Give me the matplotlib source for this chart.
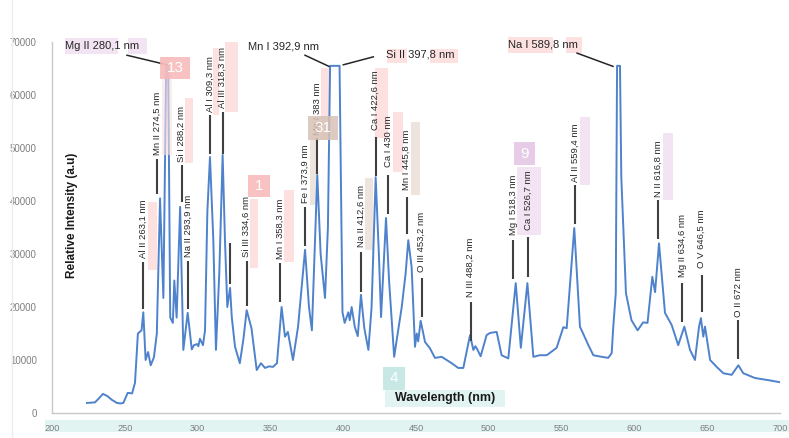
import matplotlib
matplotlib.use("Agg")
import matplotlib.pyplot as plt
from matplotlib.patches import Rectangle
from matplotlib.transforms import IdentityTransform

plt.rcParams["font.family"] = ["Liberation Sans", "DejaVu Sans"]

# ── spectrum ──────────────────────────────────────────────────────────────────
wavelength = [224, 229.5, 232, 235, 238, 241, 244.6, 247, 249, 252, 255, 257, 259,
              261.5, 262.7, 264.3, 266, 267.8, 270, 272, 274.2, 276.5, 278.4, 279.8,
              281.2, 283, 284, 285.6, 288, 290.2, 293.2, 296, 297.5, 299.6, 300.5,
              301.6, 303.7, 305.1, 306.7, 308.5, 310.8, 312.6, 314.9, 317.2, 318.8,
              320.4, 322.3, 323.5, 325.7, 329, 331.5, 333.7, 337, 340.6, 343.5, 346.3,
              349, 351.8, 354.5, 357.7, 360, 362, 365.5, 369, 373.8, 376.5, 378.5,
              382.2, 384.5, 387.5, 389.5, 391, 397.5, 399.5, 401, 403.5, 404.5, 405.8,
              408, 410, 412.2, 414.5, 417.3, 419.5, 422.3, 424.5, 426, 429.4, 431.5,
              435, 440.2, 442.9, 444.7, 447, 449.3, 450.5, 451.5, 453.2, 456.2, 459.6,
              463, 467.6, 474.5, 479, 482.5, 487.1, 489.4, 490.8, 492.1, 494.4, 498.5,
              500.8, 505.4, 508.8, 513.4, 518.5, 522, 526.5, 530.6, 535, 539.8, 546.6,
              551.2, 553.5, 558.7, 562.6, 568.4, 571.8, 577.5, 582, 584.4, 585.5,
              587.2, 588.1, 590.1, 591, 594.2, 598, 602.2, 606, 609, 612.3, 614.2,
              616.9, 621, 625.6, 630.1, 634.3, 638.2, 641.6, 644.4, 645.7, 647.3,
              648.5, 652, 656.5, 661.1, 666.8, 671.4, 674.8, 682.8, 692, 700]
intensity = [1900, 2000, 2700, 3600, 3200, 2500, 1900, 1800, 1900, 3800, 3700, 5700, 15000,
             15600, 19000, 10000, 11500, 9000, 10500, 15000, 40500, 21700, 65500, 65500,
             18000, 17000, 25000, 18000, 38900, 11900, 18900, 12000, 12800, 13000, 12600,
             14000, 12800, 15600, 38000, 48300, 32600, 11900, 26400, 48700, 32600,
             20000, 23600, 18000, 12500, 9400, 14000, 19400, 16000, 8100, 9400, 8500,
             8800, 8700, 9400, 20000, 14400, 15300, 10000, 16300, 30800, 20000, 15600,
             44900, 30000, 21700, 35000, 65500, 65500, 19000, 17000, 19000, 17500, 20000,
             16200, 14500, 22300, 16000, 11900, 20000, 44500, 30000, 18100, 36800, 25000,
             10600, 20000, 26400, 32600, 27500, 12500, 15000, 13500, 17400, 13400, 12200,
             10400, 10600, 9400, 8500, 8500, 14700, 11900, 12600, 12000, 10700, 14700,
             15100, 15300, 10900, 10300, 24500, 12300, 24500, 10600, 10900, 10900, 12300,
             16200, 16000, 34900, 16300, 12800, 10900, 10600, 10400, 11300, 16300,
             22600, 65500, 65500, 44500, 22600, 17500, 15600, 17100, 17000, 25700, 22800,
             32000, 18900, 16600, 12800, 16300, 11900, 10000, 16300, 17900, 14400,
             16300, 10000, 8700, 7500, 7200, 9000, 7500, 6600, 6200, 5800]

# vertical line labels: text, x (nm), leader bottom, leader top, text bottom
v_labels = ["Al II 263,1 nm", "Mn II 274,5 nm", "Si I 288,2 nm", "Na II 293,9 nm",
            "Al I 309,3 nm", "Al III 318,3 nm", "", "Si III 334,6 nm", "Mn I 358,3 nm",
            "Fe I 373,9 nm", "Mg I 383 nm", "Na II 412,6 nm", "Ca I 422,6 nm",
            "Ca I 430 nm", "Mn I 445,8 nm", "O III 453,2 nm", "N III 488,2 nm",
            "Mg I 518,3 nm", "Ca I 526,7 nm", "Al II 559,4 nm", "N II 616,8 nm",
            "Mg II 634,6 nm", "O V 646,5 nm", "O II 672 nm"]
v_x = [262.5, 272.1, 289.1, 293.6, 308.5, 317.2, 322.3, 333.7, 356.6, 373.8, 382.2,
       412.2, 422.3, 431.0, 443.6, 453.9, 487.6, 516.8, 527.1, 559.2, 616.4, 632.9,
       646.2, 671.4]
v_lo = [19600, 41300, 39800, 19600, 48900, 48900, 24300, 20200, 21000, 31500, 45100,
        22800, 44700, 37600, 33800, 18100, 13600, 25300, 25700, 35700, 32800, 17200,
        19100, 10200]
v_hi = [28500, 48000, 46800, 28700, 56200, 56800, 32000, 28700, 28300, 38900, 51900,
        30400, 52100, 44900, 40800, 25500, 20900, 32600, 33200, 43000, 40200, 24500,
        26000, 17500]
v_text = [29200, 48700, 47400, 29400, 56800, 57500, 0, 29400, 29000, 39600, 52500,
          31300, 53400, 46400, 42100, 26600, 21900, 33600, 34500, 43600, 40800, 25700,
          27400, 18200]

# horizontal labels for saturated lines: text, text x, text y, leader (x0, y0, x1, y1)
h_labels = ["Mg II 280,1 nm", "Mn I 392,9 nm", "Si II 397,8 nm", "Na I 589,8 nm"]
h_x = [208.9, 358.7, 429.4, 513.2]
h_y = [69300, 69100, 67600, 69500]
h_ha = ["left", "center", "left", "left"]
h_lead = [(251.5, 67500, 279.0, 65700), (373.8, 67500, 390.2, 65400),
          (400.1, 65700, 420.7, 67200), (560.6, 67900, 585.3, 65400)]

W, H = 789, 438
fig = plt.figure(figsize=(W / 100, H / 100), dpi=100)
ax = fig.add_axes([52 / W, (H - 413) / H, (780 - 52) / W, (413 - 42) / H])

# ── annotation-tool highlights (pixel boxes) ──────────────────────────────────
PINK, PINK_B = "#fde0e0", "#f8b8b8"
PURP, PURP_B = "#f2e4f2", "#e2c4e2"
BRWN, BRWN_B = "#eee4de", "#d8c2b6"
TEAL, TEAL_B = "#e2f4f2", "#bfe5e2"


def px_box(x0, y0, x1, y1, color, z=1.0, alpha=1.0):
    ax.add_patch(Rectangle((x0, H - y1), x1 - x0, y1 - y0, transform=IdentityTransform(),
                           facecolor=color, edgecolor="none", zorder=z, alpha=alpha,
                           clip_on=False))


def badge(x0, y0, x1, y1, txt, color):
    px_box(x0, y0, x1, y1, color, z=4, alpha=0.85)
    ax.text((x0 + x1) / 2, H - (y0 + y1) / 2, txt, transform=IdentityTransform(),
            ha="center", va="center", color="white", fontsize=11, zorder=5)


boxes = [
    (65, 38, 118, 54, PURP), (128, 38, 147, 54, PURP),          # Mg II 280,1
    (148, 202, 157, 270, PINK), (185, 98, 193, 163, PINK),
    (213, 48, 219, 115, PINK), (225, 42, 238, 112, PINK),
    (250, 199, 258, 268, PINK), (284, 190, 294, 262, PINK),
    (310, 137, 317, 205, BRWN), (321, 68, 330, 140, PINK),
    (387, 49, 407, 63, PINK), (430, 49, 458, 63, PINK),          # Si II 397,8
    (365, 178, 373, 250, BRWN), (375, 68, 388, 138, PINK),
    (393, 112, 403, 172, PINK), (411, 122, 420, 195, BRWN),
    (517, 167, 541, 235, PURP), (580, 117, 590, 185, PURP),
    (663, 133, 673, 200, PURP),
    (508, 37, 553, 53, PINK), (566, 37, 582, 53, PINK),          # Na I 589,8
    (385, 390, 505, 407, TEAL), (45, 420, 789, 432, TEAL),
]
for x0, y0, x1, y1, c in boxes:
    px_box(x0, y0, x1, y1, c)
px_box(162, 57, 172, 155, PINK, z=3, alpha=0.6)

badge(160, 57, 190, 79, "13", PINK_B)
badge(248, 175, 270, 197, "1", PINK_B)
badge(308, 116, 338, 140, "31", BRWN_B)
badge(514, 142, 535, 165, "9", PURP_B)
badge(383, 367, 405, 390, "4", TEAL_B)

# ── spectrum ──────────────────────────────────────────────────────────────────
ax.plot(wavelength, intensity, color="#4f82cc", lw=1.4, zorder=2)

for txt, x, lo, hi, tb in zip(v_labels, v_x, v_lo, v_hi, v_text):
    ax.plot([x, x], [lo, hi], color="#404040", lw=1.5, zorder=2.5, solid_capstyle="butt")
    if txt:
        ax.text(x, tb, txt, rotation=90, ha="center", va="bottom", fontsize=6.8,
                color="#262626", zorder=3)

for txt, x, y, ha, (x0, y0, x1, y1) in zip(h_labels, h_x, h_y, h_ha, h_lead):
    ax.text(x, y, txt, ha=ha, va="center", fontsize=8, color="#262626", zorder=3,
            clip_on=False)
    ax.plot([x0, x1], [y0, y1], color="#262626", lw=1.1, zorder=2.5, clip_on=False)

# ── axes ──────────────────────────────────────────────────────────────────────
ax.set_xlim(200, 700)
ax.set_ylim(0, 70000)
ax.set_xticks(range(200, 701, 50))
ax.set_yticks(range(0, 70001, 10000))
ax.tick_params(length=0, labelcolor="#7f7f7f")
ax.tick_params(axis="y", pad=11, labelsize=7)
ax.tick_params(axis="x", pad=8, labelsize=6.6)
for s in ["top", "right"]:
    ax.spines[s].set_visible(False)
for s in ["left", "bottom"]:
    ax.spines[s].set_color("#c8c8c8")
    ax.spines[s].set_linewidth(1.0)
ax.patch.set_alpha(0)

fig.text(72 / W, 1 - 215 / H, "Relative Intensity (a.u)", rotation=90, ha="center",
         va="center", fontsize=8.5, fontweight="bold", color="#1a1a1a")
fig.text(445 / W, 1 - 398 / H, "Wavelength (nm)", ha="center", va="center",
         fontsize=9, fontweight="bold", color="#1a1a1a")
fig.add_artist(plt.Line2D([12 / W, 12 / W], [0, 1], color="#ececec", lw=1))

fig.savefig("out.png", dpi=100)
